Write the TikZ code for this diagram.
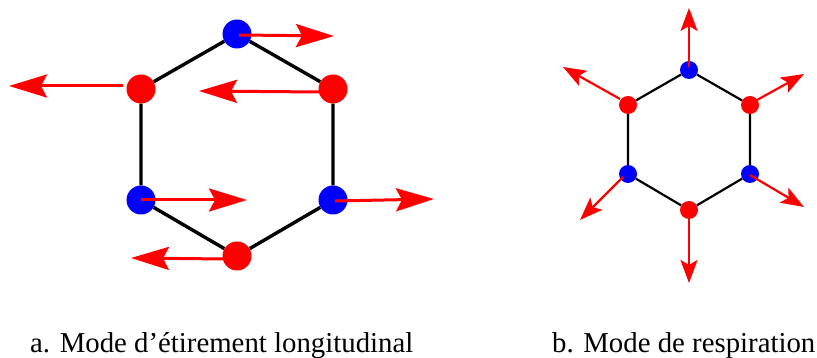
\documentclass[tikz,border=0pt]{standalone}
\usepackage{fontspec}
\setmainfont{Liberation Serif}
\usetikzlibrary{arrows.meta}

\begin{document}
\begin{tikzpicture}
    [x=1pt, y=-1pt,
    atombig/.style={circle, minimum size=29pt, inner sep=0pt},
    atomsmall/.style={circle, minimum size=18pt, inner sep=0pt},
    bondbig/.style={draw, line width=3.4pt},
    bondsmall/.style={draw, line width=2.2pt},
    movebig/.style={draw=red, line width=3pt, -{Stealth[length=38pt, width=23pt, inset=6pt, fill=red]}},
    movesmall/.style={draw=red, line width=2.2pt, -{Stealth[length=23pt, width=17pt, inset=5pt, fill=red]}},
    caption/.style={anchor=base west, inner sep=0pt, font=\fontsize{28.8}{32}\selectfont}
    ]
    \useasboundingbox (0,0) rectangle (817,358);

    % Mode a
    \foreach \pos/\x/\y/\color in {A1/237/34/blue, A2/333/89/red, A3/333/200/blue, A4/237/256/red, A5/141/200/blue, A6/141/89/red}{
        \node[atombig, fill=\color] (\pos) at (\x,\y) {};
    }
    \draw[bondbig] (A1) -- (A2) -- (A3) -- (A4) -- (A5) -- (A6) -- (A1);

    % Deplacements a
    \foreach \pos/\xa/\ya/\xb/\yb in {A1/239/35/334/36, A2/320/92/199/91, A3/335/201/434/199, A4/225/259/131/258, A5/141/200/247/200, A6/123/86/9/86}{
        \coordinate (\pos from) at (\xa,\ya);
        \coordinate (\pos to) at (\xb,\yb);
        \draw[movebig] (\pos from) -- (\pos to);
    }

    % Mode b
    \foreach \pos/\x/\y/\color in {B1/689/70/blue, B2/750/105/red, B3/750/174/blue, B4/689/210/red, B5/628/174/blue, B6/628/105/red}{
        \node[atomsmall, fill=\color] (\pos) at (\x,\y) {};
    }
    \draw[bondsmall] (B1) -- (B2) -- (B3) -- (B4) -- (B5) -- (B6) -- (B1);

    % Deplacements b
    \foreach \pos/\xa/\ya/\xb/\yb in {B1/689/67/689/8, B2/757/100/804/74, B3/750/175/804/207, B4/689/216/689/283, B5/623/177/580/220, B6/620/99/563/67}{
        \coordinate (\pos from) at (\xa,\ya);
        \coordinate (\pos to) at (\xb,\yb);
        \draw[movesmall] (\pos from) -- (\pos to);
    }

    % Legendes
    \node[caption] (captiona) at (30,352) {a. Mode d’étirement longitudinal};
    \node[caption] (captionb) at (552,352) {b. Mode de respiration};
\end{tikzpicture}
\end{document}
